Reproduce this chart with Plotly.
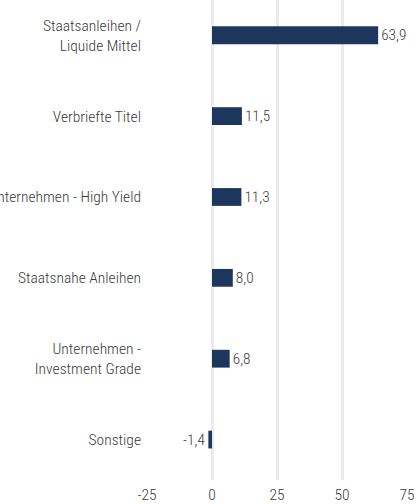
import plotly.graph_objects as go

categories = [
    "Staatsanleihen /<br>Liquide Mittel",
    "Verbriefte Titel",
    "Unternehmen - High Yield",
    "Staatsnahe Anleihen",
    "Unternehmen -<br>Investment Grade",
    "Sonstige",
]
values = [63.9, 11.5, 11.3, 8.0, 6.8, -1.4]
tick_vals = [-25, 0, 25, 50, 75]
tick_text = ["-25", "0", "25", "50", "75"]

FONT = "Roboto Condensed, Liberation Sans Narrow, DejaVu Sans Condensed, sans-serif"
TEXT_COLOR = "#3a3a3a"
FS = 15.5

fig = go.Figure(
    go.Bar(
        y=categories,
        x=values,
        orientation="h",
        marker=dict(color="#1c365e", line=dict(width=0)),
        width=0.22,
        texttemplate="%{x:.1f}",
        textposition="outside",
        cliponaxis=False,
        textfont=dict(family=FONT, size=FS, color=TEXT_COLOR),
        hoverinfo="skip",
    )
)

fig.update_layout(
    width=416,
    height=504,
    margin=dict(l=147, r=9, t=0, b=22),
    paper_bgcolor="white",
    plot_bgcolor="white",
    separators=",.",
    showlegend=False,
    font=dict(family=FONT, size=FS, color=TEXT_COLOR, weight=300),
    xaxis=dict(
        range=[-25, 75],
        tickvals=tick_vals,
        ticktext=tick_text,
        showgrid=True,
        gridcolor="#ebebeb",
        gridwidth=2.5,
        zeroline=False,
        showline=False,
        ticks="",
        ticklabelstandoff=3,
        tickfont=dict(family=FONT, size=FS, color=TEXT_COLOR),
    ),
    yaxis=dict(
        categoryorder="array",
        categoryarray=categories,
        range=[5.5, -0.436],
        showgrid=False,
        zeroline=False,
        showline=False,
        ticks="",
        ticklabelstandoff=5,
        tickfont=dict(family=FONT, size=FS, color=TEXT_COLOR),
        automargin=False,
    ),
)

fig.write_html(
    "out.html",
    config={"displayModeBar": False},
    post_script="document.body.style.margin='0';document.body.style.overflow='hidden';",
)
